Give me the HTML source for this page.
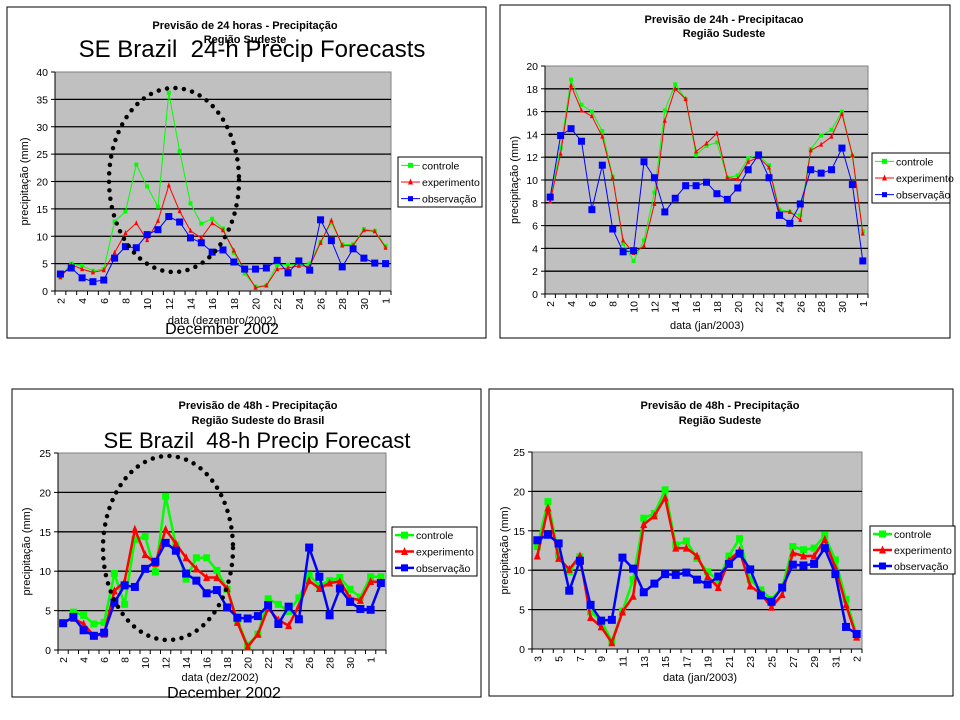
<!DOCTYPE html>
<html><head><meta charset="utf-8">
<style>
body{margin:0;background:#fff;width:960px;height:720px;overflow:hidden;font-family:"Liberation Sans",sans-serif}
svg{position:absolute;left:0;top:0}
text{white-space:pre}
</style></head>
<body>
<svg id="s" width="960" height="720"></svg>
<script>
// ---- data ----
const cats1 = ["2","3","4","5","6","7","8","9","10","11","12","13","14","15","16","17","18","19","20","21","22","23","24","25","26","27","28","29","30","31","1"];
const ctl1 = [2.6,5.0,4.6,3.7,4.0,12.7,14.5,23.1,19.1,15.4,36.2,25.6,16.0,12.3,13.2,11.4,7.0,3.2,0.8,1.0,4.8,4.8,4.8,5.0,9.0,12.5,8.5,8.5,11.3,11.0,8.2];
const exp1 = [2.5,4.8,4.0,3.4,3.8,7.0,10.6,12.4,9.3,12.8,19.3,14.6,11.0,9.7,12.4,11.1,7.4,3.8,0.6,1.0,4.0,4.2,4.6,4.5,8.8,12.9,8.3,8.3,11.1,10.9,7.9];
const obs1 = [3.1,4.2,2.4,1.7,2.0,6.0,8.1,7.9,10.3,11.2,13.6,12.6,9.7,8.8,7.1,7.5,5.3,4.0,4.0,4.2,5.6,3.3,5.5,3.8,13.0,9.2,4.4,7.7,6.0,5.1,5.0];
const ticks1 = [0,5,10,15,20,25,30,35,40];

const cats2 = ["2","3","4","5","6","7","8","9","10","11","12","13","14","15","16","17","18","19","20","21","22","23","24","25","26","27","28","29","30","31","1"];
const ctl2 = [8.5,12.8,18.8,16.6,16.0,14.3,10.3,4.4,2.9,4.7,8.9,16.1,18.4,17.1,12.2,13.0,13.3,10.2,10.4,11.9,12.2,11.3,7.4,7.2,6.9,12.7,13.9,14.4,16.0,12.1,5.5];
const exp2 = [8.1,12.3,18.3,16.1,15.6,13.8,10.2,4.7,3.6,4.2,7.9,15.2,18.0,17.1,12.5,13.2,14.1,10.2,10.1,11.6,12.0,11.1,7.2,7.2,6.5,12.6,13.1,13.8,15.8,12.2,5.3];
const obs2 = [8.5,13.9,14.5,13.4,7.4,11.3,5.7,3.7,3.8,11.6,10.2,7.2,8.4,9.5,9.5,9.8,8.8,8.3,9.3,10.9,12.2,10.2,6.9,6.2,7.9,10.9,10.6,10.9,12.8,9.6,2.9];
const ticks2 = [0,2,4,6,8,10,12,14,16,18,20];

const cats3 = ["2","3","4","5","6","7","8","9","10","11","12","13","14","15","16","17","18","19","20","21","22","23","24","25","26","27","28","29","30","31","1","2"];
const ctl3 = [null,4.8,4.4,3.3,3.5,9.7,5.8,14.0,14.4,9.9,19.5,13.3,9.0,11.7,11.7,10.1,7.7,3.8,0.6,2.0,6.5,5.8,4.9,6.6,9.5,8.2,8.8,9.2,7.7,6.7,9.3,9.3];
const exp3 = [null,4.0,3.3,1.8,2.0,7.5,8.7,15.3,12.1,11.0,15.3,13.5,11.7,10.3,9.2,9.2,7.8,3.5,0.4,2.0,5.3,3.8,3.1,5.6,8.8,7.8,8.5,8.7,6.6,6.3,8.7,8.6];
const obs3 = [3.4,4.2,2.5,1.8,2.2,6.0,8.2,8.0,10.3,11.2,13.6,12.6,9.7,8.8,7.2,7.6,5.4,4.1,4.0,4.3,5.7,3.3,5.5,3.9,13.0,9.3,4.4,7.8,6.1,5.2,5.1,8.5];
const ticks3 = [0,5,10,15,20,25];

const cats4 = ["3","4","5","6","7","8","9","10","11","12","13","14","15","16","17","18","19","20","21","22","23","24","25","26","27","28","29","30","31","1","2"];
const ctl4 = [13.0,18.7,11.9,9.8,11.7,4.7,3.6,1.0,4.8,8.8,16.6,17.2,20.2,13.2,13.7,11.5,9.8,8.7,11.8,14.0,8.8,7.5,6.3,7.8,13.0,12.6,12.8,14.4,11.3,6.3,1.8];
const exp4 = [11.8,17.9,11.5,10.1,11.8,4.0,2.8,0.8,4.7,6.7,15.8,16.9,19.2,12.8,12.8,11.8,9.2,7.8,11.2,12.5,8.0,7.0,5.3,6.9,12.2,11.8,11.8,13.9,10.3,5.6,1.5];
const obs4 = [13.8,14.5,13.4,7.4,11.2,5.6,3.6,3.7,11.6,10.2,7.2,8.3,9.5,9.4,9.7,8.8,8.2,9.2,10.8,12.1,10.1,6.8,6.0,7.8,10.7,10.6,10.8,12.8,9.5,2.8,1.9];
const ticks4 = [0,5,10,15,20,25];

const NS="http://www.w3.org/2000/svg";
const svg=document.getElementById('s');
function mk(tag,attrs,parent,text){const e=document.createElementNS(NS,tag);for(const k in attrs)e.setAttribute(k,attrs[k]);if(text!=null)e.textContent=text;(parent||svg).appendChild(e);return e;}

function chart(o){
  const g=mk('g',{});
  
  
  const box=mk('rect',{x:o.box[0],y:o.box[1],width:o.box[2],height:o.box[3],fill:'#fff',stroke:'#000','stroke-width':1},g);
  
  
  const L=o.plot[0],T=o.plot[1],R=o.plot[2],B=o.plot[3];
  const bg=mk('rect',{x:L,y:T,width:R-L,height:B-T,fill:'#c0c0c0',stroke:'#808080'},g);
  
  
  const n=o.cats.length, bw=(R-L)/n;
  const xs=i=>L+bw*(i+0.5);
  const ys=v=>B-(v/o.max)*(B-T);
  o.ticks.forEach(t=>{
    if(t>0&&t<o.max){const gl=mk('line',{x1:L,x2:R,y1:ys(t),y2:ys(t),stroke:'#000','stroke-width':1.3},g);
      
      }
    mk('line',{x1:L-4,x2:L,y1:ys(t),y2:ys(t),stroke:'#000'},g);
    const tl=mk('text',{x:L-7,y:ys(t)+4,'font-size':10.5,'text-anchor':'end'},g,t);
    
    
  });
  mk('line',{x1:L,x2:L,y1:T,y2:B,stroke:'#000'},g);
  mk('line',{x1:L,x2:R,y1:B,y2:B,stroke:'#000'},g);
  for(let i=0;i<=n;i++) mk('line',{x1:L+bw*i,x2:L+bw*i,y1:B,y2:B+4,stroke:'#000'},g);
  o.cats.forEach((c,i)=>{
    if(i%2!==0) return;
    const x=xs(i)+4, y=B+7;
    const tl=mk('text',{x:x,y:y,'font-size':10.5,'text-anchor':'end',transform:`rotate(-90 ${x} ${y})`},g,c);
    
    
  });
  const ser=[[o.ctl,'#00ff00','sq','controle'],[o.exp,'#ff0000','tri','experimento'],[o.obs,'#0000ff','sq','observação']];
  const lw=o.thick?2.5:1, ms=o.thick?3.5:2, msb=o.thick?4:3.5;
  ser.forEach(s=>{
    const sg=mk('g',{},g);
    
    
    let d='';s[0].forEach((v,i)=>{if(v==null)return;d+=(d?'L':'M')+xs(i).toFixed(1)+' '+ys(v).toFixed(1);});
    mk('path',{d:d,fill:'none',stroke:s[1],'stroke-width':lw},sg);
    s[0].forEach((v,i)=>{if(v==null)return;const x=xs(i),y=ys(v);
      let m; const r=(s[3]==='observação')?msb:ms;
      if(s[2]==='sq') m=mk('rect',{x:x-r,y:y-r,width:2*r,height:2*r,fill:s[1]},sg);
      else m=mk('polygon',{points:`${x},${y-r-1} ${x-r},${y+r} ${x+r},${y+r}`,fill:s[1]},sg);
      
      
    });
  });
  const [lx,ly,lw2,lh]=o.legend;
  const lg=mk('g',{},g);
  
  
  mk('rect',{x:lx,y:ly,width:lw2,height:lh,fill:'#fff',stroke:'#000'},lg);
  ser.forEach((s,k)=>{
    const y=ly+lh*(k+0.5)/3;
    const e=mk('g',{},lg);
    
    
    mk('line',{x1:lx+3,x2:lx+22,y1:y,y2:y,stroke:s[1],'stroke-width':lw},e);
    const r=o.thick?3.5:2.5;
    if(s[2]==='sq') mk('rect',{x:lx+12.5-r,y:y-r,width:2*r,height:2*r,fill:s[1]},e);
    else mk('polygon',{points:`${lx+12.5},${y-r-1} ${lx+12.5-r},${y+r} ${lx+12.5+r},${y+r}`,fill:s[1]},e);
    mk('text',{x:lx+24,y:y+4,'font-size':10.5},e,s[3]);
  });
  o.titles.forEach(t=>{const e=mk('text',{x:t[0],y:t[1],'font-size':t[2],'font-weight':t[3]?'bold':'normal','text-anchor':'middle','xml:space':'preserve'},g,t[4]);
    
    });
  const yt=mk('text',{x:o.ytx,y:(T+B)/2,'font-size':11,'text-anchor':'middle',transform:`rotate(-90 ${o.ytx} ${(T+B)/2})`},g,'precipitação (mm)');
  
  
  if(o.ell){const el=mk('ellipse',{cx:o.ell[0],cy:o.ell[1],rx:o.ell[2],ry:o.ell[3],fill:'none',stroke:'#000','stroke-width':4.5,'stroke-dasharray':'0 8.5','stroke-linecap':'round'},g);
    
    }
}

chart({name:'chart-24h-dec',box:[7,7,479,331],plot:[55,72,391,291],max:40,ticks:ticks1,cats:cats1,ctl:ctl1,exp:exp1,obs:obs1,
  legend:[398,157,84,50],ytx:28,ell:[174,180,65,92],
  titles:[[245,29,11,true,'Previsão de 24 horas - Precipitação','chart-title'],[245,43,11,true,'Região Sudeste','chart-subtitle'],
  [252,57,24,false,'SE Brazil  24-h Precip Forecasts','overlay-title'],[222,324,11,false,'data (dezembro/2002)','x-axis-title'],[222,334,16,false,'December 2002','overlay-caption']]});
chart({name:'chart-24h-jan',box:[500,5,450,333],plot:[545,66,868,294],max:20,ticks:ticks2,cats:cats2,ctl:ctl2,exp:exp2,obs:obs2,
  legend:[872,153,78,50],ytx:518,
  titles:[[724,23,11,true,'Previsão de 24h - Precipitacao','chart-title'],[724,37,11,true,'Região Sudeste','chart-subtitle'],[707,329,11,false,'data (jan/2003)','x-axis-title']]});
chart({name:'chart-48h-dec',box:[12,389,469,308],plot:[58,453,386,650],max:25,ticks:ticks3,cats:cats3,ctl:ctl3,exp:exp3,obs:obs3,thick:true,
  legend:[392,527,85,49],ytx:30,ell:[168,548,65,92],
  titles:[[258,409,11,true,'Previsão de 48h - Precipitação','chart-title'],[258,424,11,true,'Região Sudeste do Brasil','chart-subtitle'],
  [257,448,22,false,'SE Brazil  48-h Precip Forecast','overlay-title'],[220,681,11,false,'data (dez/2002)','x-axis-title'],[224,698,16,false,'December 2002','overlay-caption']]});
chart({name:'chart-48h-jan',box:[489,389,464,307],plot:[532,452,862,649],max:25,ticks:ticks4,cats:cats4,ctl:ctl4,exp:exp4,obs:obs4,thick:true,
  legend:[870,526,85,48],ytx:508,
  titles:[[720,409,11,true,'Previsão de 48h - Precipitação','chart-title'],[720,424,11,true,'Região Sudeste','chart-subtitle'],[700,681,11,false,'data (jan/2003)','x-axis-title']]});
</script>
</body></html>
